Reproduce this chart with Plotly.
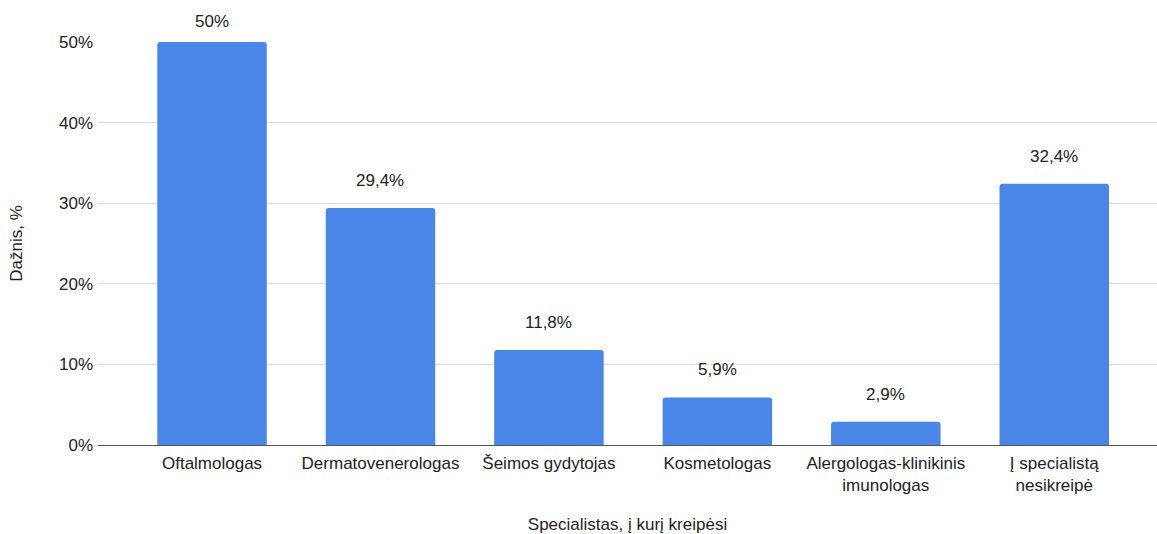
import plotly.graph_objects as go

categories = ["Oftalmologas", "Dermatovenerologas", "Šeimos gydytojas", "Kosmetologas",
              "Alergologas-klinikinis<br>imunologas", "Į specialistą<br>nesikreipė"]
values = [50, 29.4, 11.8, 5.9, 2.9, 32.4]
y_ticks = [0, 10, 20, 30, 40, 50]
y_ticklabels = ["0%", "10%", "20%", "30%", "40%", "50%"]
y_max = 50

labels = [f"{v:g}%".replace(".", ",") for v in values]
FONT = "Liberation Sans, Arial, sans-serif"
TXT = "#222222"
FS = 17

fig = go.Figure()
fig.add_trace(go.Bar(
    x=list(range(len(categories))), y=values,
    marker=dict(color="#4a86e8", line=dict(width=0)),
    width=0.65, hoverinfo="skip",
))
for i, (v, t) in enumerate(zip(values, labels)):
    shift = 9 if v >= y_max else 16
    fig.add_annotation(x=i, y=v, text=t, showarrow=False, yanchor="bottom",
                       yshift=shift, font=dict(family=FONT, size=FS, color=TXT))

fig.update_layout(
    width=1157, height=534,
    margin=dict(l=98, r=0, t=42, b=88.5),
    plot_bgcolor="white", paper_bgcolor="white",
    barcornerradius=3,
    showlegend=False,
    font=dict(family=FONT, size=FS, color=TXT),
    xaxis=dict(
        range=[-0.677, 5.61],
        tickmode="array", tickvals=list(range(len(categories))), ticktext=categories,
        showgrid=False, showline=True, linecolor="#555555", linewidth=1.3,
        ticks="outside", ticklen=2, tickcolor="rgba(0,0,0,0)",
        tickfont=dict(family=FONT, size=FS, color=TXT),
        title=dict(text="Specialistas, į kurį kreipėsi", standoff=26,
                   font=dict(family=FONT, size=FS, color=TXT)),
        zeroline=False,
    ),
    yaxis=dict(
        range=[0, y_max],
        tickmode="array", tickvals=y_ticks, ticktext=y_ticklabels,
        showgrid=True, gridcolor="#d9d9d9", gridwidth=1.3,
        zeroline=False, showline=False, ticks="", ticklabelstandoff=4,
        tickfont=dict(family=FONT, size=FS, color=TXT),
        title=dict(text="Dažnis, %", standoff=32,
                   font=dict(family=FONT, size=FS, color=TXT)),
    ),
)

fig.write_html("out.html")
